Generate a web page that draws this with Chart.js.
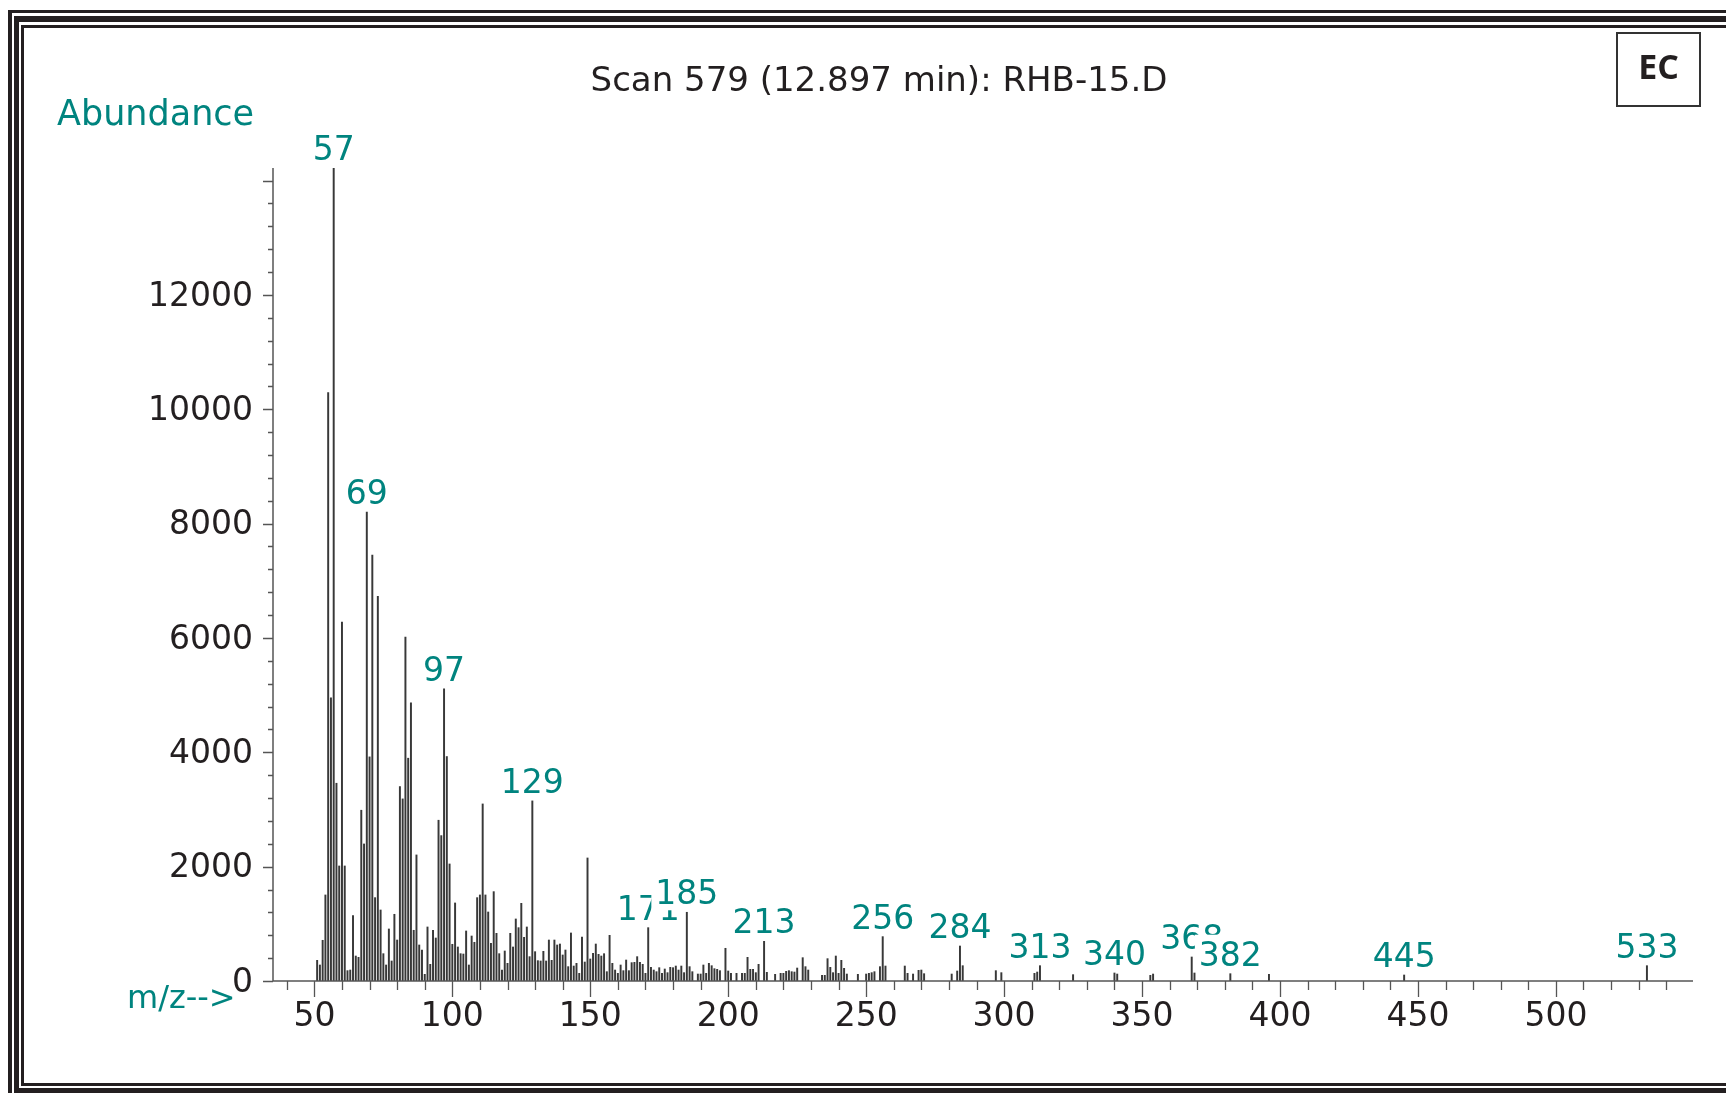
<!DOCTYPE html>
<html>
<head>
<meta charset="utf-8">
<script src="https://cdn.jsdelivr.net/npm/chart.js@4.4.1/dist/chart.umd.min.js"></script>
<style>
  html, body { margin: 0; padding: 0; background: #fff; overflow: hidden; }
  #wrap { position: relative; width: 1726px; height: 1093px; overflow: hidden; }
  #myChart { position: absolute; left: 0; top: 0; }
  .frame { position: absolute; border-color: #231f20; border-style: solid; border-width: 0; }
  .txt { position: absolute; font-family: "DejaVu Sans", sans-serif; line-height: 1; white-space: nowrap; }
  #ec {
    position: absolute; left: 1616px; top: 32px; width: 81px; height: 71px;
    border: 2.5px solid #333; background: #fff;
    font-family: "Open Sans", sans-serif; font-weight: 700; font-size: 34px;
    color: #231f20; text-align: center; line-height: 64px;
  }
</style>
</head>
<body>
<div id="wrap">
  <canvas id="myChart" width="1726" height="1093"></canvas>
  <div class="frame" style="left:8px;top:10px;width:2000px;height:2000px;border-left-width:4px;border-top-width:3px;"></div>
  <div class="frame" style="left:14px;top:16px;width:2000px;height:1066px;border-left-width:5px;border-top-width:6px;border-bottom-width:6px;"></div>
  <div class="frame" style="left:21px;top:25px;width:2000px;height:1055px;border-left-width:3px;border-top-width:3px;border-bottom-width:3px;"></div>
  <div class="txt" style="left:0;width:1758px;top:62px;text-align:center;font-size:34px;color:#231f20;">Scan 579 (12.897 min): RHB-15.D</div>
  <div class="txt" style="left:57px;top:96px;font-size:35px;color:#00847f;">Abundance</div>
  <div class="txt" style="left:127px;top:981px;font-size:32px;color:#00847f;">m/z--&gt;</div>
  <div id="ec">EC</div>
</div>
<script>
// Spectrum data (m/z and abundance)
const mzValues = [
  51, 52, 53, 54, 55, 56, 57, 58, 59, 60, 61, 62, 63, 64, 65, 66, 67, 68, 69, 70,
  71, 72, 73, 74, 75, 76, 77, 78, 79, 80, 81, 82, 83, 84, 85, 86, 87, 88, 89, 90,
  91, 92, 93, 94, 95, 96, 97, 98, 99, 100, 101, 102, 103, 104, 105, 106, 107, 108, 109, 110,
  111, 112, 113, 114, 115, 116, 117, 118, 119, 120, 121, 122, 123, 124, 125, 126, 127, 128, 129, 130,
  131, 132, 133, 134, 135, 136, 137, 138, 139, 140, 141, 142, 143, 144, 145, 146, 147, 148, 149, 150,
  151, 152, 153, 154, 155, 156, 157, 158, 159, 160, 161, 162, 163, 164, 165, 166, 167, 168, 169, 170,
  171, 172, 173, 174, 175, 176, 177, 178, 179, 180, 181, 182, 183, 184, 185, 186, 187, 189, 190, 191,
  192, 193, 194, 195, 196, 197, 199, 200, 201, 203, 205, 206, 207, 208, 209, 210, 211, 213, 214, 217,
  219, 220, 221, 222, 223, 224, 225, 227, 228, 229, 234, 235, 236, 237, 238, 239, 240, 241, 242, 243,
  247, 250, 251, 252, 253, 255, 256, 257, 264, 265, 267, 269, 270, 271, 281, 283, 284, 285, 297, 299,
  311, 312, 313, 325, 340, 341, 353, 354, 368, 369, 382, 396, 445, 533
];
const abundances = [
  362, 280, 712, 1505, 10290, 4952, 14220, 3459, 2012, 6276, 2012, 181, 192, 1143, 437, 414, 2987, 2397, 8201, 3920,
  7449, 1458, 6726, 1242, 478, 280, 910, 350, 1167, 717, 3401, 3185, 6014, 3897, 4865, 887, 2205, 630, 542, 117,
  945, 292, 887, 752, 2812, 2543, 5110, 3926, 2047, 642, 1365, 595, 478, 472, 875, 280, 787, 677, 1458, 1505,
  3097, 1505, 1207, 659, 1563, 834, 478, 192, 525, 309, 834, 595, 1085, 933, 1359, 764, 945, 426, 3150, 513,
  356, 350, 519, 350, 717, 362, 717, 630, 647, 455, 542, 251, 840, 262, 309, 134, 770, 332, 2152, 385,
  484, 647, 467, 437, 478, 163, 799, 309, 192, 134, 280, 181, 367, 181, 321, 327, 426, 327, 292, 134,
  933, 239, 192, 163, 233, 134, 210, 146, 239, 233, 262, 192, 262, 146, 1202, 251, 163, 122, 122, 280,
  134, 309, 268, 216, 204, 181, 572, 175, 134, 134, 134, 134, 414, 204, 204, 146, 292, 694, 152, 117,
  134, 134, 169, 181, 163, 157, 227, 408, 251, 192, 99, 99, 391, 239, 146, 437, 134, 362, 222, 122,
  117, 122, 134, 146, 163, 251, 776, 262, 262, 134, 122, 187, 192, 128, 122, 175, 612, 268, 181, 146,
  134, 157, 268, 111, 140, 122, 99, 122, 420, 140, 128, 117, 105, 268
];
// Peaks that carry an m/z label
const labeledMz = [57, 69, 97, 129, 171, 185, 213, 256, 284, 313, 340, 368, 382, 445, 533];

// Axis tick labels
const xTickValues = [50, 100, 150, 200, 250, 300, 350, 400, 450, 500];
const yTickValues = [0, 2000, 4000, 6000, 8000, 10000, 12000];

const inkColor = "#231f20";
const tealColor = "#00847f";
const axisColor = "#555";
const barColor = "#383838";

// Axis lines plus major / minor tick marks
const axesPlugin = {
  id: "msAxes",
  afterDatasetsDraw(chart) {
    const ctx = chart.ctx;
    const xs = chart.scales.x;
    const ys = chart.scales.y;
    const x0 = xs.left;
    const y0 = ys.getPixelForValue(0);
    ctx.save();
    ctx.strokeStyle = axisColor;
    ctx.lineWidth = 1.5;
    ctx.beginPath();
    ctx.moveTo(x0, ys.top);
    ctx.lineTo(x0, y0);
    ctx.lineTo(xs.right, y0);
    ctx.stroke();

    ctx.lineWidth = 1.3;
    ctx.beginPath();
    // y ticks every 400, long ones every 2000
    for (let v = 0; v <= ys.max; v += 400) {
      const py = Math.round(ys.getPixelForValue(v)) + 0.5;
      const len = v % 2000 === 0 ? 10 : 5;
      ctx.moveTo(x0 - len, py);
      ctx.lineTo(x0, py);
    }
    // x ticks every 10, long ones every 50
    for (let m = 40; m <= xs.max; m += 10) {
      const px = Math.round(xs.getPixelForValue(m)) + 0.5;
      const len = m % 50 === 0 ? 16 : 9;
      ctx.moveTo(px, y0);
      ctx.lineTo(px, y0 + len);
    }
    ctx.stroke();
    ctx.restore();
  },
};

// m/z labels above the labelled peaks, each on a white box
// (later boxes hide parts of earlier labels, as in the printout)
const peakLabelPlugin = {
  id: "peakLabels",
  afterDatasetsDraw(chart) {
    const ctx = chart.ctx;
    const xs = chart.scales.x;
    const ys = chart.scales.y;
    ctx.save();
    ctx.font = '33px "DejaVu Sans", sans-serif';
    ctx.textAlign = "center";
    ctx.textBaseline = "alphabetic";
    labeledMz.forEach((mz) => {
      const idx = mzValues.indexOf(mz);
      if (idx < 0) return;
      const px = xs.getPixelForValue(mz);
      const base = ys.getPixelForValue(abundances[idx]) - 8;
      const text = String(mz);
      const w = ctx.measureText(text).width;
      ctx.fillStyle = "#fff";
      ctx.fillRect(px - w / 2 - 4, base - 31, w + 8, 37);
      ctx.fillStyle = tealColor;
      ctx.fillText(text, px, base);
    });
    ctx.restore();
  },
};

window.addEventListener("load", function () {
  const ctx = document.getElementById("myChart");
  const tickFont = { family: "DejaVu Sans", size: 33 };

  const chartData = {
    datasets: [
      {
        label: "Abundance",
        data: mzValues.map((mz, i) => ({ x: mz, y: abundances[i] })),
        backgroundColor: barColor,
        borderWidth: 0,
        barThickness: 1.3,
      },
    ],
  };

  const options = {
    responsive: false,
    animation: false,
    events: [],
    layout: { padding: { left: 0, top: 168, right: 33, bottom: 0 } },
    plugins: {
      legend: { display: false },
      tooltip: { enabled: false },
    },
    scales: {
      x: {
        type: "linear",
        min: 35,
        max: 549.7,
        offset: false,
        grid: { display: false, drawTicks: false },
        border: { display: false },
        ticks: {
          font: tickFont,
          color: inkColor,
          padding: 17,
          maxRotation: 0,
          autoSkip: false,
          callback: (value) => String(value),
        },
        afterBuildTicks: (scale) => {
          scale.ticks = xTickValues.map((v) => ({ value: v }));
        },
        afterFit: (scale) => {
          scale.height = 112;
        },
      },
      y: {
        min: 0,
        max: 14220,
        grid: { display: false, drawTicks: false },
        border: { display: false },
        ticks: {
          font: tickFont,
          color: inkColor,
          padding: 20,
          labelOffset: 2,
          callback: (value) => String(value),
        },
        afterBuildTicks: (scale) => {
          scale.ticks = yTickValues.map((v) => ({ value: v }));
        },
        afterFit: (scale) => {
          scale.width = 273;
        },
      },
    },
  };

  new Chart(ctx, {
    type: "bar",
    data: chartData,
    options: options,
    plugins: [axesPlugin, peakLabelPlugin],
  });
});
</script>
</body>
</html>
